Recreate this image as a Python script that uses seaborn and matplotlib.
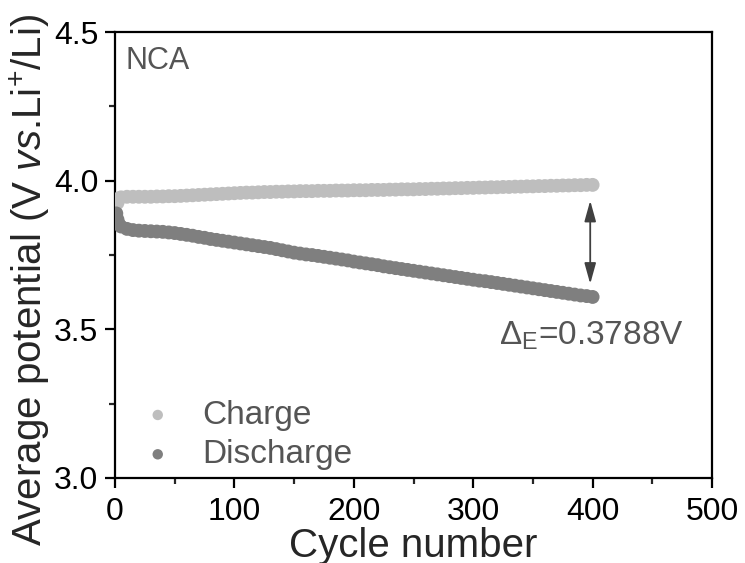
import numpy as np
import pandas as pd
import matplotlib
matplotlib.use("Agg")
import matplotlib.pyplot as plt
import seaborn as sns

# cycle numbers (first three cycles, then every 5th)
cycles = [1, 2, 3] + list(range(5, 401, 5))

charge = [
    3.890, 3.925, 3.940,
    3.944, 3.946, 3.946, 3.946, 3.946, 3.946, 3.947, 3.947, 3.948, 3.948,
    3.949, 3.950, 3.951, 3.952, 3.953, 3.954, 3.955, 3.956, 3.957, 3.958,
    3.959, 3.960, 3.960, 3.961, 3.962, 3.962, 3.963, 3.963, 3.964, 3.964,
    3.965, 3.965, 3.965, 3.966, 3.966, 3.966, 3.967, 3.967, 3.967, 3.968,
    3.968, 3.968, 3.969, 3.969, 3.969, 3.970, 3.970, 3.971, 3.971, 3.971,
    3.972, 3.972, 3.973, 3.973, 3.974, 3.974, 3.975, 3.975, 3.976, 3.976,
    3.977, 3.977, 3.978, 3.978, 3.979, 3.979, 3.980, 3.980, 3.981, 3.981,
    3.982, 3.982, 3.983, 3.983, 3.984, 3.984, 3.985, 3.985, 3.986, 3.986,
]

discharge = [
    3.890, 3.870, 3.856,
    3.846, 3.838, 3.834, 3.832, 3.831, 3.830, 3.829, 3.828, 3.826, 3.824,
    3.821, 3.818, 3.815, 3.811, 3.808, 3.804, 3.801, 3.798, 3.795, 3.792,
    3.789, 3.786, 3.783, 3.780, 3.777, 3.774, 3.770, 3.766, 3.762, 3.758,
    3.755, 3.752, 3.750, 3.747, 3.744, 3.741, 3.738, 3.735, 3.732, 3.728,
    3.725, 3.722, 3.719, 3.716, 3.712, 3.709, 3.706, 3.703, 3.700, 3.697,
    3.694, 3.691, 3.688, 3.685, 3.682, 3.679, 3.676, 3.673, 3.670, 3.667,
    3.664, 3.662, 3.659, 3.656, 3.653, 3.650, 3.647, 3.644, 3.641, 3.638,
    3.635, 3.632, 3.629, 3.626, 3.623, 3.620, 3.617, 3.614, 3.612, 3.609,
]

series_names = ["Charge", "Discharge"]
series_colors = ["#bebebe", "#7f7f7f"]
text_gray = "#555555"

delta_label = "Δ$_\\mathregular{E}$=0.3788V"
arrow_cycle = 398
arrow_top = 3.933
arrow_bottom = 3.653

sns.set_style("ticks")
plt.rcParams["font.family"] = ["Liberation Sans", "DejaVu Sans"]
plt.rcParams["mathtext.fontset"] = "custom"
plt.rcParams["mathtext.rm"] = "Liberation Sans"
plt.rcParams["mathtext.it"] = "Liberation Sans:italic"

fig = plt.figure(figsize=(7.45, 5.63), dpi=100)
ax = fig.add_axes([0.1544, 0.151, 0.8013, 0.792])

for name, vals, col in zip(series_names, [charge, discharge], series_colors):
    df = pd.DataFrame({"cycle": cycles, "potential": vals})
    sns.scatterplot(data=df, x="cycle", y="potential", color=col, s=100,
                    edgecolor="none", linewidth=0, label=name, ax=ax, zorder=3)

ax.annotate("", xy=(arrow_cycle, arrow_top), xytext=(arrow_cycle, arrow_bottom),
            arrowprops=dict(arrowstyle="<|-|>,head_length=0.9,head_width=0.25",
                            color="#404040", lw=1.3, mutation_scale=14,
                            shrinkA=0, shrinkB=0))

ax.text(0.017, 0.968, "NCA", transform=ax.transAxes, fontsize=22,
        color=text_gray, ha="left", va="top")
ax.text(0.643, 0.318, delta_label, transform=ax.transAxes, fontsize=24,
        color=text_gray, ha="left", va="center")

ax.set_xlim(0, 500)
ax.set_ylim(3.0, 4.5)
ax.set_xticks([0, 100, 200, 300, 400, 500])
ax.set_xticks(np.arange(50, 500, 100), minor=True)
ax.set_yticks([3.0, 3.5, 4.0, 4.5])
ax.set_yticks([3.25, 3.75, 4.25], minor=True)
ax.set_yticklabels(["3.0", "3.5", "4.0", "4.5"])

ax.set_xlabel("Cycle number", fontsize=29, labelpad=0)
ax.set_ylabel("Average potential (V $\\it{vs}$.Li$^\\mathregular{+}$/Li)",
              fontsize=29, va="center")
ax.yaxis.set_label_coords(-0.142, 0.444)

for sp in ax.spines.values():
    sp.set_linewidth(1.6)
    sp.set_color("black")
ax.tick_params(which="major", direction="out", length=7, width=1.6,
               labelsize=23, colors="black")
ax.tick_params(axis="x", which="major", pad=7)
ax.tick_params(axis="y", which="major", pad=5)
ax.tick_params(which="minor", direction="out", length=4, width=1.6)

leg = ax.legend(loc="lower left", bbox_to_anchor=(-0.015, -0.042), frameon=False,
                fontsize=24, markerscale=0.75, handlelength=1.5,
                handletextpad=0.6, labelspacing=0.25, borderaxespad=0.4)
for t in leg.get_texts():
    t.set_color(text_gray)

fig.savefig("out.png", dpi=100)
